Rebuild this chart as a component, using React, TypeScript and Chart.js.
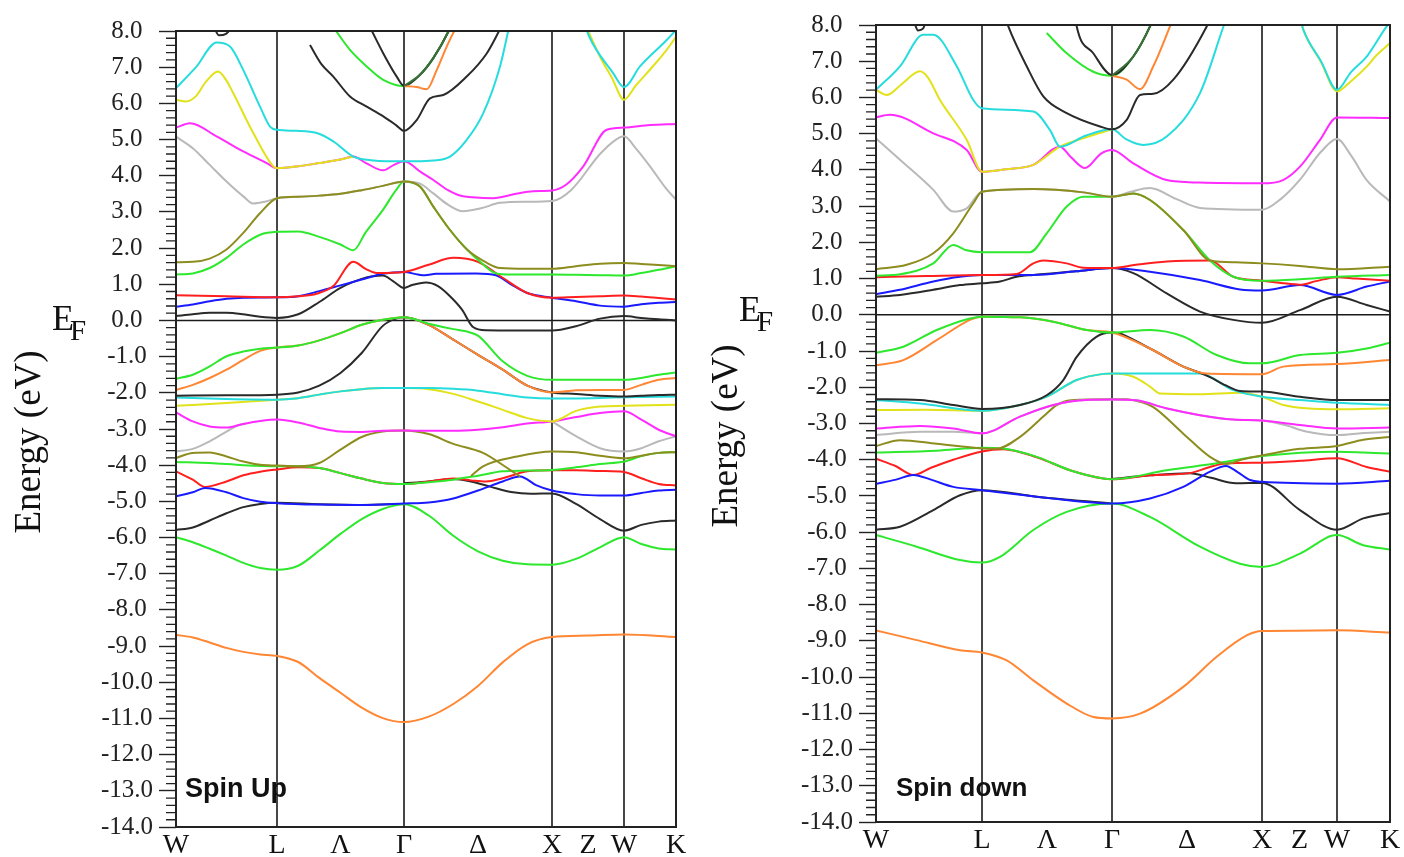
import React, { useEffect, useRef } from 'react';
import { Chart, registerables } from 'chart.js';

Chart.register(...registerables);

// ---------------- data ----------------
// k-path positions of the high-symmetry points W, L, Γ, X, W, K
const kUp = [0, 1.01, 2.28, 3.76, 4.48, 5.0];
const kDown = [0, 1.06, 2.36, 3.86, 4.61, 5.14];
const pathLabels = ['W', 'L', 'Λ', 'Γ', 'Δ', 'X', 'Z', 'W', 'K'];
const energyMin = -14;
const energyMax = 8;
const energyStep = 1;
const minorStep = 0.2;

const COL = {
  black: '#2a2a2a', orange: '#ff8633', green: '#2de82d', blue: '#1a1aff', red: '#ff1f1f',
  olive: '#8d8d1f', gray: '#b9b9b9', magenta: '#ff2bff', yellow: '#e2e21a', cyan: '#26dcdc', dgreen: '#3b6f3b',
};

// ----- Spin up bands: [k, E(eV)] -----
const upOrangeDeep = [[0,-8.69],[0.168,-8.76],[0.337,-8.9],[0.505,-9.05],[0.673,-9.16],[0.842,-9.23],[1.01,-9.27],[1.222,-9.44],[1.433,-9.88],[1.645,-10.29],[1.857,-10.7],[2.068,-10.99],[2.28,-11.1],[2.527,-10.95],[2.773,-10.6],[3.02,-10.1],[3.267,-9.45],[3.513,-8.95],[3.76,-8.75],[4.12,-8.71],[4.48,-8.68],[5.0,-8.75]];
const upGreenDeep = [[0,-5.99],[0.168,-6.13],[0.337,-6.31],[0.505,-6.5],[0.673,-6.7],[0.842,-6.84],[1.01,-6.89],[1.222,-6.78],[1.433,-6.36],[1.645,-5.9],[1.857,-5.49],[2.068,-5.21],[2.28,-5.08],[2.527,-5.39],[2.773,-5.95],[3.02,-6.38],[3.267,-6.64],[3.513,-6.74],[3.76,-6.75],[4.0,-6.59],[4.24,-6.27],[4.48,-5.99],[4.653,-6.18],[4.827,-6.3],[5.0,-6.33]];
const upBlackDeep = [[0,-5.79],[0.168,-5.72],[0.337,-5.53],[0.505,-5.33],[0.673,-5.16],[0.842,-5.07],[1.01,-5.04],[1.433,-5.08],[1.857,-5.1],[2.28,-5.07]];
const upBlackMid = [[2.28,-4.5],[2.527,-4.45],[2.773,-4.38],[2.95,-4.45],[3.15,-4.6],[3.35,-4.74],[3.55,-4.79],[3.76,-4.78],[4.0,-5.07],[4.24,-5.49],[4.48,-5.81],[4.653,-5.65],[4.827,-5.56],[5.0,-5.53]];
const upRedLow = [[0,-4.17],[0.168,-4.4],[0.29,-4.6],[0.505,-4.45],[0.673,-4.28],[0.842,-4.18],[1.01,-4.12],[1.222,-4.06],[1.433,-4.08],[1.645,-4.22],[1.857,-4.37],[2.068,-4.49],[2.28,-4.52],[2.527,-4.45],[2.773,-4.37],[2.95,-4.42],[3.1,-4.45],[3.267,-4.36],[3.513,-4.17],[3.76,-4.14],[4.0,-4.14],[4.24,-4.16],[4.48,-4.19],[4.653,-4.36],[4.827,-4.52],[5.0,-4.56]];
const upBlueLow = [[0,-4.86],[0.168,-4.75],[0.29,-4.63],[0.505,-4.75],[0.673,-4.91],[0.842,-5.01],[1.01,-5.05],[1.433,-5.09],[1.857,-5.1],[2.28,-5.06],[2.527,-5.03],[2.773,-4.92],[3.02,-4.7],[3.267,-4.45],[3.44,-4.31],[3.6,-4.55],[3.76,-4.7],[4.0,-4.8],[4.24,-4.84],[4.48,-4.84],[4.653,-4.77],[4.827,-4.7],[5.0,-4.68]];
const upGreenMid = [[0,-3.91],[0.337,-3.94],[0.673,-4.0],[1.01,-4.03],[1.222,-4.03],[1.433,-4.08],[1.645,-4.22],[1.857,-4.37],[2.068,-4.49],[2.28,-4.52],[2.527,-4.47],[2.773,-4.4],[3.02,-4.29],[3.267,-4.17],[3.513,-4.15],[3.76,-4.13],[4.0,-4.06],[4.24,-3.97],[4.48,-3.9],[4.653,-3.75],[4.827,-3.66],[5.0,-3.64]];
const upOliveLow = [[0,-3.8],[0.168,-3.66],[0.337,-3.65],[0.505,-3.76],[0.673,-3.9],[0.842,-3.99],[1.01,-4.01],[1.222,-4.03],[1.433,-3.94],[1.645,-3.57],[1.857,-3.22],[2.068,-3.07],[2.28,-3.04],[2.527,-3.14],[2.773,-3.41],[3.07,-3.66],[3.34,-4.13],[3.44,-4.31]];
const upOliveX = [[2.95,-4.3],[3.07,-4.03],[3.41,-3.76],[3.76,-3.62],[4.0,-3.64],[4.24,-3.74],[4.48,-3.81],[4.653,-3.74],[4.827,-3.66],[5.0,-3.64]];
const upGrayLowA = [[0,-3.62],[0.168,-3.55],[0.337,-3.34],[0.505,-3.07],[0.607,-2.91],[0.7,-2.85]];
const upGrayLowB = [[3.76,-2.79],[4.0,-3.2],[4.24,-3.53],[4.48,-3.62],[4.653,-3.53],[4.827,-3.34],[5.0,-3.2]];
const upMagentaLow = [[0,-2.54],[0.168,-2.79],[0.337,-2.93],[0.505,-2.96],[0.673,-2.86],[0.842,-2.78],[1.01,-2.74],[1.222,-2.82],[1.433,-2.97],[1.645,-3.07],[1.857,-3.08],[2.068,-3.05],[2.28,-3.04],[2.527,-3.05],[2.773,-3.05],[3.02,-3.02],[3.267,-2.95],[3.513,-2.85],[3.76,-2.79],[4.0,-2.67],[4.24,-2.56],[4.48,-2.51],[4.653,-2.74],[4.827,-3.02],[5.0,-3.2]];
const upYellowLow = [[0,-2.36],[0.505,-2.28],[1.01,-2.19],[1.222,-2.15],[1.433,-2.05],[1.645,-1.96],[1.857,-1.9],[2.068,-1.87],[2.28,-1.87],[2.527,-1.9],[2.773,-2.03],[3.02,-2.24],[3.267,-2.47],[3.513,-2.7],[3.76,-2.79],[4.0,-2.5],[4.24,-2.38],[4.48,-2.36],[5.0,-2.33]];
const upCyanLow = [[0,-2.13],[0.505,-2.17],[1.01,-2.19],[1.222,-2.15],[1.433,-2.05],[1.645,-1.96],[1.857,-1.9],[2.068,-1.87],[2.28,-1.87],[2.527,-1.87],[2.773,-1.89],[3.02,-1.94],[3.267,-2.04],[3.513,-2.13],[3.76,-2.16],[4.24,-2.14],[4.48,-2.12],[5.0,-2.1]];
const upBlackVal = [[0,-2.08],[0.505,-2.07],[1.01,-2.05],[1.222,-1.99],[1.433,-1.8],[1.645,-1.45],[1.857,-0.9],[2.068,-0.15],[2.2,0.05],[2.28,0.09],[2.527,-0.12],[2.773,-0.53],[3.02,-0.95],[3.267,-1.36],[3.513,-1.8],[3.76,-1.99],[4.0,-2.03],[4.24,-2.08],[4.48,-2.1],[4.653,-2.08],[4.827,-2.06],[5.0,-2.05]];
const upOrangeVal = [[0,-1.92],[0.168,-1.78],[0.337,-1.59],[0.505,-1.36],[0.673,-1.09],[0.842,-0.84],[1.01,-0.75],[1.222,-0.69],[1.433,-0.55],[1.645,-0.35],[1.857,-0.12],[2.068,0.02],[2.28,0.09],[2.527,-0.12],[2.773,-0.53],[3.02,-0.95],[3.267,-1.36],[3.513,-1.8],[3.76,-1.99],[4.0,-1.93],[4.24,-1.92],[4.48,-1.92],[4.653,-1.78],[4.827,-1.64],[5.0,-1.59]];
const upGreenVal = [[0,-1.61],[0.168,-1.5],[0.337,-1.27],[0.505,-0.99],[0.673,-0.86],[0.842,-0.78],[1.01,-0.75],[1.222,-0.69],[1.433,-0.55],[1.645,-0.35],[1.857,-0.12],[2.068,0.02],[2.28,0.09],[2.527,-0.09],[2.773,-0.24],[2.9,-0.3],[3.02,-0.42],[3.267,-1.13],[3.513,-1.53],[3.76,-1.64],[4.48,-1.64],[4.653,-1.59],[4.827,-1.5],[5.0,-1.44]];
const upBlackCond = [[0,0.12],[0.168,0.17],[0.337,0.21],[0.505,0.21],[0.673,0.17],[0.842,0.1],[1.01,0.07],[1.222,0.17],[1.433,0.51],[1.645,0.9],[1.857,1.15],[2.068,1.24],[2.17,1.09],[2.28,0.9],[2.36,0.98],[2.5,1.05],[2.62,0.95],[2.74,0.67],[2.86,0.3],[2.97,-0.18],[3.1,-0.27],[3.76,-0.28],[4.0,-0.16],[4.24,0.05],[4.48,0.12],[4.653,0.07],[4.827,0.03],[5.0,0.0]];
const upBlueCond = [[0,0.38],[0.168,0.44],[0.337,0.53],[0.505,0.6],[0.673,0.63],[1.01,0.64],[1.222,0.67],[1.433,0.81],[1.645,0.97],[1.857,1.13],[2.068,1.29],[2.28,1.34],[2.42,1.27],[2.49,1.25],[2.6,1.29],[3.0,1.3],[3.2,1.25],[3.35,1.0],[3.513,0.76],[3.76,0.63],[4.0,0.53],[4.24,0.41],[4.48,0.38],[4.653,0.45],[4.827,0.49],[5.0,0.51]];
const upRedCond = [[0,0.7],[0.505,0.67],[1.01,0.64],[1.222,0.67],[1.407,0.74],[1.573,0.95],[1.773,1.62],[1.9,1.42],[2.007,1.31],[2.28,1.34],[2.527,1.54],[2.773,1.73],[3.02,1.62],[3.267,1.18],[3.513,0.76],[3.76,0.63],[4.0,0.65],[4.24,0.67],[4.48,0.69],[4.653,0.66],[4.827,0.62],[5.0,0.58]];
const upOliveCond = [[0,1.61],[0.168,1.62],[0.337,1.71],[0.505,1.96],[0.673,2.42],[0.842,2.97],[1.01,3.38],[1.222,3.42],[1.433,3.45],[1.645,3.5],[1.857,3.6],[2.068,3.72],[2.28,3.84],[2.44,3.7],[2.57,3.16],[2.74,2.5],[2.91,1.96],[3.11,1.59],[3.24,1.45],[3.5,1.43],[3.76,1.43],[4.0,1.5],[4.24,1.57],[4.48,1.59],[4.653,1.56],[4.827,1.53],[5.0,1.5]];
const upGreenCond = [[0,1.27],[0.168,1.3],[0.337,1.45],[0.505,1.73],[0.673,2.1],[0.842,2.37],[1.01,2.45],[1.222,2.46],[1.433,2.31],[1.645,2.1],[1.773,1.94],[1.9,2.45],[2.068,3.05],[2.2,3.6],[2.28,3.84],[2.44,3.7],[2.57,3.16],[2.74,2.5],[2.91,1.96],[3.05,1.6],[3.18,1.32],[3.3,1.27],[3.76,1.27],[4.0,1.26],[4.24,1.25],[4.48,1.24],[4.653,1.31],[4.827,1.4],[5.0,1.5]];
const upGrayCond = [[0,5.08],[0.168,4.76],[0.337,4.3],[0.505,3.84],[0.673,3.43],[0.773,3.23],[0.9,3.29],[1.01,3.38],[1.222,3.42],[1.433,3.45],[1.645,3.5],[1.857,3.6],[2.068,3.72],[2.28,3.84],[2.44,3.78],[2.57,3.52],[2.72,3.2],[2.87,3.02],[3.05,3.1],[3.24,3.25],[3.5,3.28],[3.76,3.3],[3.95,3.6],[4.24,4.6],[4.4,5.0],[4.48,5.09],[4.6,4.75],[4.74,4.26],[4.9,3.65],[5.0,3.34]];
const upMagentaCond = [[0,5.33],[0.14,5.45],[0.41,5.08],[0.673,4.67],[0.907,4.35],[1.01,4.21],[1.222,4.26],[1.433,4.35],[1.645,4.45],[1.773,4.53],[1.9,4.35],[2.07,4.15],[2.18,4.3],[2.28,4.4],[2.45,4.1],[2.57,3.89],[2.72,3.6],[2.87,3.43],[3.17,3.38],[3.4,3.5],[3.57,3.57],[3.76,3.59],[3.9,3.75],[4.073,4.26],[4.307,5.27],[4.48,5.33],[4.74,5.4],[5.0,5.43]];
const upYellowCond = [[0,6.1],[0.1,6.05],[0.2,6.2],[0.3,6.6],[0.42,6.88],[0.5,6.65],[0.573,6.28],[0.773,5.18],[0.973,4.26],[1.01,4.21],[1.222,4.26],[1.433,4.35],[1.645,4.45],[1.773,4.53]];
const upCyanCond = [[0,6.42],[0.2,7.0],[0.407,7.68],[0.54,7.57],[0.673,6.92],[0.84,5.91],[0.94,5.36],[1.01,5.27],[1.2,5.24],[1.407,5.18],[1.573,4.95],[1.773,4.53],[1.95,4.43],[2.1,4.4],[2.28,4.4],[2.4,4.4],[2.57,4.42],[2.74,4.53],[2.907,4.99],[3.073,5.73],[3.24,7.02],[3.33,8.1]];
const upYellowTop = [[4.09,8.2],[4.24,7.29],[4.36,6.7],[4.48,6.1],[4.6,6.5],[4.707,6.83],[4.907,7.48],[5.0,7.84]];
const upCyanTop = [[4.1,8.1],[4.125,7.89],[4.373,6.83],[4.48,6.45],[4.64,7.02],[4.907,7.75],[5.0,8.03]];
const upBlackTopA = [[1.34,7.61],[1.45,7.1],[1.573,6.74],[1.74,6.19],[1.907,5.91],[2.073,5.64],[2.2,5.4],[2.28,5.24],[2.407,5.54],[2.54,6.14],[2.673,6.23],[2.907,6.74],[3.107,7.38],[3.25,8.1]];
const upGreenTop = [[1.55,8.2],[1.74,7.48],[1.907,7.02],[2.073,6.65],[2.28,6.48],[2.44,6.79],[2.573,7.25],[2.723,7.98],[2.75,8.15]];
const upBlackTopB = [[1.95,8.05],[2.073,7.38],[2.207,6.74],[2.28,6.48],[2.44,6.79],[2.573,7.25],[2.723,7.98],[2.75,8.15]];
const upOrangeTop = [[2.28,6.48],[2.407,6.45],[2.507,6.39],[2.607,6.92],[2.707,7.57],[2.8,8.1]];
const upDarkGreen = [[2.28,6.48],[2.44,6.79],[2.573,7.25],[2.723,7.98],[2.75,8.15]];
const upBlackEdge = [[0.38,8.1],[0.43,7.88],[0.5,7.92],[0.56,8.1]];

// ----- Spin down bands: [k, E(eV)] -----
const dnOrangeDeep = [[0,-8.71],[0.407,-8.98],[0.84,-9.26],[1.06,-9.32],[1.307,-9.54],[1.573,-10.09],[1.907,-10.73],[2.173,-11.1],[2.36,-11.14],[2.64,-11.01],[3.073,-10.27],[3.407,-9.44],[3.707,-8.85],[3.86,-8.73],[4.2,-8.72],[4.61,-8.71],[5.14,-8.77]];
const dnGreenDeep = [[0,-6.08],[0.407,-6.4],[0.84,-6.77],[1.06,-6.84],[1.24,-6.68],[1.573,-5.94],[1.907,-5.44],[2.36,-5.21],[2.74,-5.58],[3.24,-6.4],[3.64,-6.87],[3.86,-6.96],[4.24,-6.59],[4.61,-6.08],[4.873,-6.36],[5.14,-6.48]];
const dnBlackDeep = [[0,-5.93],[0.24,-5.85],[0.573,-5.39],[0.84,-4.98],[1.06,-4.84],[1.607,-5.02],[2.36,-5.21]];
const dnBlackMid = [[2.36,-4.53],[2.74,-4.43],[3.14,-4.37],[3.35,-4.5],[3.6,-4.65],[3.86,-4.64],[4.24,-5.39],[4.61,-5.93],[4.873,-5.62],[5.14,-5.47]];
const dnRedLow = [[0,-3.97],[0.2,-4.18],[0.373,-4.42],[0.55,-4.22],[0.773,-4.0],[1.06,-3.77],[1.273,-3.71],[1.607,-3.93],[1.94,-4.29],[2.273,-4.52],[2.36,-4.54],[2.74,-4.43],[3.14,-4.37],[3.34,-4.2],[3.507,-4.1],[3.86,-4.08],[4.24,-4.03],[4.61,-3.96],[4.907,-4.2],[5.14,-4.33]];
const dnBlueLow = [[0,-4.67],[0.2,-4.55],[0.373,-4.42],[0.55,-4.55],[0.773,-4.75],[1.06,-4.84],[1.607,-5.02],[2.36,-5.21],[2.74,-5.07],[3.073,-4.75],[3.34,-4.33],[3.5,-4.17],[3.62,-4.35],[3.74,-4.56],[3.86,-4.61],[4.61,-4.66],[5.14,-4.58]];
const dnGreenMid = [[0,-3.8],[0.607,-3.75],[1.06,-3.67],[1.273,-3.69],[1.607,-3.92],[1.94,-4.29],[2.273,-4.52],[2.36,-4.54],[2.907,-4.29],[3.407,-4.1],[3.86,-3.9],[4.61,-3.78],[4.873,-3.8],[5.14,-3.83]];
const dnOliveLow = [[0,-3.62],[0.24,-3.46],[0.607,-3.56],[1.06,-3.69],[1.2,-3.7],[1.44,-3.37],[1.673,-2.81],[1.807,-2.49],[1.95,-2.36],[2.36,-2.33],[2.5,-2.33],[2.64,-2.4],[2.773,-2.55],[3.073,-3.28],[3.34,-3.92],[3.507,-4.12],[3.65,-4.0],[3.86,-3.88],[4.24,-3.7],[4.61,-3.62],[4.873,-3.45],[5.14,-3.37]];
const dnGrayLow = [[0,-3.32],[0.44,-3.23],[0.773,-3.23],[1.06,-3.27],[1.44,-2.81],[1.773,-2.49],[2.1,-2.35],[2.36,-2.34],[2.6,-2.36],[2.9,-2.58],[3.24,-2.77],[3.57,-2.89],[3.86,-2.92],[4.1,-3.05],[4.3,-3.22],[4.61,-3.32],[4.873,-3.26],[5.14,-3.23]];
const dnMagentaLow = [[0,-3.14],[0.44,-3.07],[0.773,-3.14],[1.06,-3.27],[1.44,-2.81],[1.773,-2.49],[2.1,-2.35],[2.36,-2.34],[2.6,-2.36],[2.9,-2.58],[3.24,-2.77],[3.57,-2.89],[3.86,-2.92],[4.24,-3.04],[4.61,-3.14],[5.14,-3.11]];
const dnYellowLow = [[0,-2.63],[0.5,-2.62],[1.06,-2.65],[1.44,-2.49],[1.707,-2.26],[2.007,-1.8],[2.273,-1.63],[2.36,-1.62],[2.573,-1.71],[2.74,-1.98],[2.84,-2.17],[3.24,-2.19],[3.64,-2.15],[3.86,-2.26],[4.073,-2.49],[4.61,-2.61],[5.14,-2.58]];
const dnCyanLow = [[0,-2.35],[0.44,-2.45],[1.06,-2.65],[1.44,-2.49],[1.707,-2.26],[2.007,-1.8],[2.273,-1.63],[2.36,-1.62],[3.24,-1.62],[3.573,-2.08],[3.86,-2.26],[4.24,-2.35],[4.61,-2.43],[5.14,-2.49]];
const dnBlackVal = [[0,-2.33],[0.44,-2.35],[0.773,-2.49],[1.06,-2.6],[1.44,-2.49],[1.707,-2.22],[1.873,-1.8],[2.007,-1.16],[2.207,-0.6],[2.36,-0.49],[2.74,-0.93],[3.073,-1.43],[3.24,-1.6],[3.34,-1.72],[3.5,-1.95],[3.64,-2.1],[3.86,-2.12],[4.24,-2.26],[4.61,-2.35],[5.14,-2.35]];
const dnOrangeVal = [[0,-1.39],[0.273,-1.25],[0.607,-0.7],[0.94,-0.14],[1.06,-0.05],[1.44,-0.07],[1.773,-0.19],[2.107,-0.42],[2.36,-0.49],[2.74,-0.93],[3.073,-1.43],[3.3,-1.62],[3.86,-1.64],[4.073,-1.43],[4.61,-1.36],[5.14,-1.25]];
const dnGreenVal = [[0,-1.05],[0.273,-0.88],[0.607,-0.42],[0.94,-0.1],[1.06,-0.05],[1.44,-0.07],[1.773,-0.19],[2.107,-0.42],[2.36,-0.49],[2.74,-0.42],[3.073,-0.6],[3.407,-1.11],[3.74,-1.34],[3.86,-1.34],[4.24,-1.11],[4.61,-1.05],[4.907,-0.93],[5.14,-0.77]];
const dnBlackCond = [[0,0.5],[0.24,0.55],[0.573,0.69],[0.84,0.82],[1.06,0.87],[1.24,0.92],[1.407,1.05],[1.573,1.1],[2.0,1.2],[2.36,1.29],[2.573,1.15],[2.907,0.59],[3.24,0.09],[3.573,-0.14],[3.86,-0.22],[4.24,0.13],[4.61,0.5],[4.907,0.27],[5.14,0.09]];
const dnBlueCond = [[0,0.57],[0.24,0.69],[0.573,0.92],[0.84,1.05],[1.06,1.1],[1.573,1.1],[2.0,1.2],[2.36,1.29],[2.74,1.19],[3.24,0.96],[3.64,0.7],[3.86,0.67],[4.24,0.82],[4.61,0.55],[4.907,0.78],[5.14,0.92]];
const dnRedCond = [[0,1.04],[0.5,1.07],[1.06,1.1],[1.407,1.13],[1.573,1.42],[1.673,1.5],[1.907,1.42],[2.073,1.3],[2.36,1.29],[2.6,1.38],[2.907,1.47],[3.34,1.5],[3.573,1.05],[3.86,0.94],[4.05,0.88],[4.24,0.83],[4.4,0.93],[4.61,1.04],[4.8,1.0],[5.14,0.94]];
const dnGreenCond = [[0,1.08],[0.24,1.12],[0.573,1.42],[0.773,1.93],[0.907,1.78],[1.06,1.73],[1.54,1.73],[1.707,2.25],[1.907,2.99],[2.073,3.26],[2.36,3.26],[2.573,3.35],[2.74,3.17],[3.073,2.34],[3.34,1.5],[3.573,1.05],[3.86,0.94],[4.24,0.98],[4.61,1.05],[5.14,1.1]];
const dnOliveCond = [[0,1.26],[0.307,1.38],[0.573,1.7],[0.773,2.25],[0.973,3.08],[1.06,3.4],[1.573,3.47],[2.073,3.38],[2.36,3.26],[2.573,3.35],[2.74,3.17],[3.073,2.34],[3.34,1.5],[3.6,1.45],[3.86,1.42],[4.24,1.35],[4.61,1.26],[5.14,1.33]];
const dnGrayCond = [[0,4.87],[0.24,4.28],[0.573,3.45],[0.773,2.85],[0.907,2.94],[1.06,3.4],[1.573,3.47],[2.073,3.38],[2.36,3.26],[2.55,3.4],[2.74,3.5],[3.0,3.2],[3.24,2.95],[3.86,2.9],[4.05,3.2],[4.24,3.73],[4.45,4.5],[4.61,4.85],[4.75,4.4],[4.907,3.72],[5.14,3.13]];
const dnMagentaCond = [[0,5.45],[0.14,5.52],[0.573,5.01],[0.907,4.55],[1.06,3.95],[1.3,4.02],[1.573,4.14],[1.84,4.64],[1.95,4.35],[2.09,4.05],[2.25,4.45],[2.36,4.55],[2.573,4.18],[2.907,3.72],[3.24,3.65],[3.86,3.63],[4.07,3.72],[4.24,4.09],[4.44,4.83],[4.61,5.45],[5.14,5.43]];
const dnYellowCond = [[0,6.21],[0.107,6.07],[0.25,6.35],[0.44,6.72],[0.52,6.55],[0.64,5.93],[0.907,4.83],[1.06,3.95],[1.3,4.02],[1.573,4.14],[1.84,4.64],[2.1,4.9],[2.36,5.12]];
const dnCyanCond = [[0,6.21],[0.24,6.86],[0.473,7.73],[0.573,7.73],[0.807,6.86],[0.973,5.93],[1.06,5.7],[1.573,5.61],[1.74,5.1],[1.84,4.64],[2.1,4.95],[2.36,5.12],[2.5,4.85],[2.673,4.69],[2.907,4.92],[3.24,6.12],[3.48,8.0],[3.52,8.3]];
const dnYellowTop = [[4.25,8.1],[4.273,7.87],[4.45,6.98],[4.61,6.17],[4.75,6.45],[4.907,6.85],[5.0,7.15],[5.14,7.5]];
const dnCyanTop = [[4.25,8.1],[4.273,7.87],[4.45,7.0],[4.61,6.21],[4.75,6.7],[4.907,7.13],[5.107,7.96],[5.15,8.1]];
const dnBlackTopA = [[1.3,8.15],[1.323,7.96],[1.507,6.86],[1.673,6.03],[1.907,5.57],[2.24,5.2],[2.36,5.12],[2.507,5.38],[2.64,6.07],[2.773,6.1],[2.973,6.49],[3.307,7.96],[3.33,8.1]];
const dnGreenTop = [[1.707,7.78],[1.907,7.22],[2.173,6.71],[2.36,6.6],[2.573,7.13],[2.74,7.96],[2.76,8.1]];
const dnBlackTopB = [[2.0,8.1],[2.007,7.96],[2.173,7.22],[2.36,6.62],[2.573,7.13],[2.74,7.96],[2.76,8.1]];
const dnOrangeTop = [[2.36,6.6],[2.507,6.49],[2.64,6.23],[2.773,6.86],[2.94,7.96],[2.96,8.1]];
const dnDarkGreen = [[2.36,6.6],[2.573,7.13],[2.74,7.96],[2.76,8.1]];
const dnBlackEdge = [[0.38,8.1],[0.42,7.85],[0.47,7.9],[0.5,8.1]];

type Band = [number[][], string];

// drawing order: first = bottom
const upBands: Band[] = [
  [upBlackDeep, COL.black], [upOrangeDeep, COL.orange], [upGreenDeep, COL.green], [upBlackMid, COL.black],
  [upRedLow, COL.red], [upBlueLow, COL.blue], [upGreenMid, COL.green], [upOliveLow, COL.olive], [upOliveX, COL.olive],
  [upGrayLowA, COL.gray], [upGrayLowB, COL.gray], [upMagentaLow, COL.magenta], [upYellowLow, COL.yellow],
  [upCyanLow, COL.cyan], [upBlackVal, COL.black], [upOrangeVal, COL.orange], [upGreenVal, COL.green],
  [upBlackCond, COL.black], [upBlueCond, COL.blue], [upRedCond, COL.red], [upGreenCond, COL.green],
  [upGrayCond, COL.gray], [upOliveCond, COL.olive], [upMagentaCond, COL.magenta], [upYellowCond, COL.yellow],
  [upCyanCond, COL.cyan], [upYellowTop, COL.yellow], [upCyanTop, COL.cyan], [upBlackTopA, COL.black],
  [upGreenTop, COL.green], [upBlackTopB, COL.black], [upOrangeTop, COL.orange], [upDarkGreen, COL.dgreen],
  [upBlackEdge, COL.black],
];

const downBands: Band[] = [
  [dnBlackDeep, COL.black], [dnOrangeDeep, COL.orange], [dnGreenDeep, COL.green], [dnBlackMid, COL.black],
  [dnRedLow, COL.red], [dnBlueLow, COL.blue], [dnGreenMid, COL.green], [dnOliveLow, COL.olive],
  [dnGrayLow, COL.gray], [dnMagentaLow, COL.magenta], [dnYellowLow, COL.yellow], [dnCyanLow, COL.cyan],
  [dnBlackVal, COL.black], [dnOrangeVal, COL.orange], [dnGreenVal, COL.green],
  [dnBlackCond, COL.black], [dnBlueCond, COL.blue], [dnRedCond, COL.red], [dnGreenCond, COL.green],
  [dnGrayCond, COL.gray], [dnOliveCond, COL.olive], [dnMagentaCond, COL.magenta], [dnYellowCond, COL.yellow],
  [dnCyanCond, COL.cyan], [dnYellowTop, COL.yellow], [dnCyanTop, COL.cyan], [dnBlackTopA, COL.black],
  [dnGreenTop, COL.green], [dnBlackTopB, COL.black], [dnOrangeTop, COL.orange], [dnDarkGreen, COL.dgreen],
  [dnBlackEdge, COL.black],
];

// ---------------- layout ----------------
interface Panel {
  k: number[]; bands: Band[]; spin: string; spinSize: number; spinDx: number; spinY: number;
  efX: number; efY: number; titleX: number; titleY: number;
  width: number; padTop: number; padRight: number; xAxisH: number; yAxisW: number;
}

const upPanel: Panel = {
  k: kUp, bands: upBands, spin: 'Spin Up', spinSize: 27, spinDx: 9, spinY: 797,
  efX: 52, efY: 330, titleX: 40, titleY: 442,
  width: 700, padTop: 31, padRight: 24, xAxisH: 30, yAxisW: 176,
};
const downPanel: Panel = {
  k: kDown, bands: downBands, spin: 'Spin down', spinSize: 26, spinDx: 20, spinY: 796,
  efX: 39, efY: 321, titleX: 37, titleY: 436,
  width: 704, padTop: 25, padRight: 14, xAxisH: 35, yAxisW: 176,
};

function labelPositions(k: number[]) {
  return [k[0], k[1], (k[1] + k[2]) / 2, k[2], (k[2] + k[3]) / 2, k[3], (k[3] + k[4]) / 2, k[4], k[5]];
}

function buildChart(canvas: HTMLCanvasElement, p: Panel) {
  const decor = {
    id: 'decor',
    beforeDatasetsDraw(chart: any) {
      const { ctx, chartArea: a, scales } = chart;
      const x = scales.x, y = scales.y;
      ctx.save();
      ctx.strokeStyle = '#1a1a1a';
      ctx.lineWidth = 1.6;
      ctx.beginPath();
      const y0 = y.getPixelForValue(0);
      ctx.moveTo(a.left, y0); ctx.lineTo(a.right, y0);
      for (const kv of p.k.slice(1, -1)) {
        const px = x.getPixelForValue(kv);
        ctx.moveTo(px, a.top); ctx.lineTo(px, a.bottom);
      }
      ctx.stroke();
      ctx.restore();
    },
    afterDatasetsDraw(chart: any) {
      const { ctx, chartArea: a } = chart;
      ctx.save();
      ctx.strokeStyle = '#222';
      ctx.lineWidth = 2;
      ctx.strokeRect(a.left, a.top, a.right - a.left, a.bottom - a.top);
      ctx.restore();
    },
    afterDraw(chart: any) {
      const { ctx, chartArea: a, scales } = chart;
      const y = scales.y;
      ctx.save();
      // minor ticks
      ctx.strokeStyle = '#222';
      ctx.lineWidth = 1.3;
      ctx.beginPath();
      const n = Math.round((energyMax - energyMin) / minorStep);
      for (let i = 0; i <= n; i++) {
        if (i % Math.round(energyStep / minorStep) === 0) continue;
        const py = y.getPixelForValue(energyMin + i * minorStep);
        ctx.moveTo(a.left - 10, py); ctx.lineTo(a.left, py);
      }
      ctx.stroke();
      // axis title
      ctx.fillStyle = '#111';
      ctx.translate(p.titleX, p.titleY);
      ctx.rotate(-Math.PI / 2);
      ctx.font = '37px "Liberation Serif"';
      ctx.textAlign = 'center';
      ctx.textBaseline = 'alphabetic';
      ctx.fillText('Energy (eV)', 0, 0);
      ctx.setTransform(1, 0, 0, 1, 0, 0);
      // E_F
      ctx.textAlign = 'left';
      ctx.font = '36px "Liberation Serif"';
      ctx.fillText('E', p.efX, p.efY);
      ctx.font = '29px "Liberation Serif"';
      ctx.fillText('F', p.efX + 18, p.efY + 10);
      // spin label
      ctx.font = `bold ${p.spinSize}px "Liberation Sans"`;
      ctx.fillText(p.spin, a.left + p.spinDx, p.spinY);
      ctx.restore();
    },
  };

  const datasets = p.bands.map(([pts, color], i) => ({
    data: pts.map(([x, y]) => ({ x, y })),
    borderColor: color,
    backgroundColor: color,
    borderWidth: 2,
    pointRadius: 0,
    cubicInterpolationMode: 'monotone' as const,
    fill: false,
    order: -i,
  }));

  return new Chart(canvas, {
    type: 'line',
    data: { datasets },
    options: {
      responsive: false,
      animation: false,
      devicePixelRatio: 1,
      layout: { padding: { left: 0, top: p.padTop, right: p.padRight, bottom: 0 } },
      plugins: { legend: { display: false }, tooltip: { enabled: false } },
      scales: {
        x: {
          type: 'linear',
          min: p.k[0],
          max: p.k[p.k.length - 1],
          afterFit: (s: any) => { s.height = p.xAxisH; },
          afterBuildTicks: (s: any) => { s.ticks = labelPositions(p.k).map((v) => ({ value: v })); },
          ticks: {
            autoSkip: false, maxRotation: 0, minRotation: 0, padding: -6,
            font: { family: 'Liberation Serif', size: 28 }, color: '#111',
            callback: (_v: any, i: number) => pathLabels[i],
          },
          grid: { display: false },
          border: { display: false },
        },
        y: {
          type: 'linear',
          min: energyMin,
          max: energyMax,
          afterFit: (s: any) => { s.width = p.yAxisW; },
          ticks: {
            stepSize: energyStep, padding: 6, crossAlign: 'center',
            font: { family: 'Liberation Serif', size: 25 }, color: '#222',
            callback: (v: any) => Number(v).toFixed(1),
          },
          grid: { drawOnChartArea: false, drawTicks: true, tickLength: 17, tickColor: '#222', tickWidth: 1.4 },
          border: { display: false },
        },
      },
    } as any,
    plugins: [decor],
  });
}

export default function App() {
  const leftRef = useRef<HTMLCanvasElement>(null);
  const rightRef = useRef<HTMLCanvasElement>(null);
  useEffect(() => {
    const c1 = buildChart(leftRef.current as HTMLCanvasElement, upPanel);
    const c2 = buildChart(rightRef.current as HTMLCanvasElement, downPanel);
    return () => { c1.destroy(); c2.destroy(); };
  }, []);
  return (
    <div style={{ position: 'absolute', left: 0, top: 0, width: 1404, height: 857, background: '#fff', overflow: 'hidden' }}>
      <canvas ref={leftRef} width={upPanel.width} height={857}
        style={{ position: 'absolute', left: 0, top: 0, width: upPanel.width, height: 857 }} />
      <canvas ref={rightRef} width={downPanel.width} height={857}
        style={{ position: 'absolute', left: 700, top: 0, width: downPanel.width, height: 857 }} />
    </div>
  );
}
